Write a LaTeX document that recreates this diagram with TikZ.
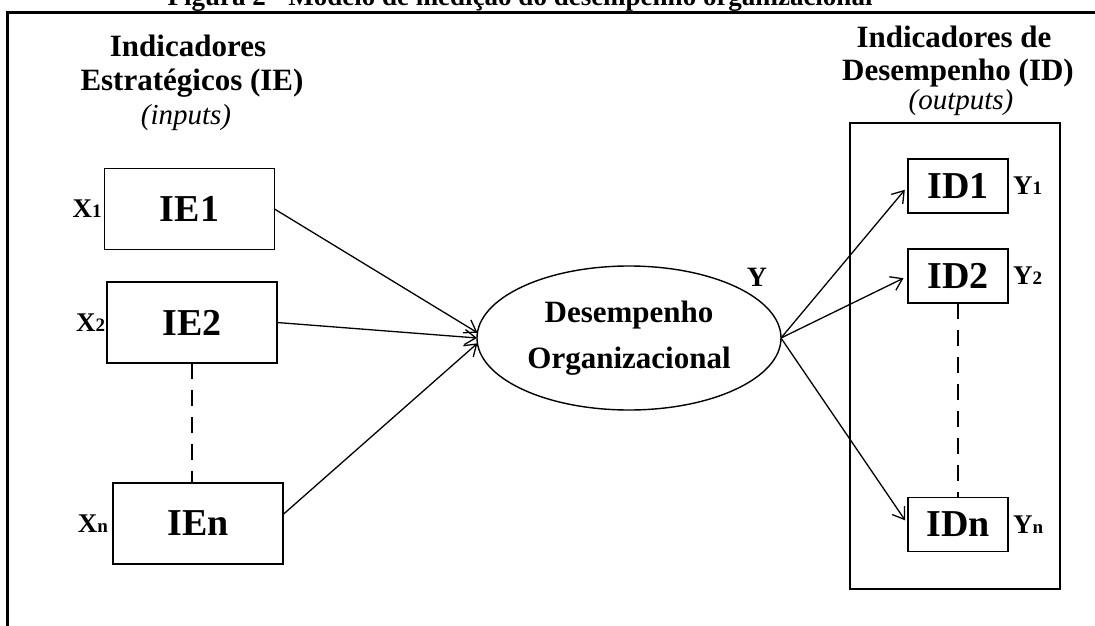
\documentclass[tikz,border=0pt]{standalone}
\usepackage{fontspec}
\setmainfont{Liberation Serif}
\usetikzlibrary{arrows.meta,shapes.geometric}

\begin{document}
\begin{tikzpicture}[x=1pt,y=-1pt,
  every node/.style={inner sep=0pt, outer sep=0pt},
  frameline/.style={line width=3pt},
  iebox/.style={draw, line width=1.4pt, minimum width=170pt, minimum height=81pt,
    font=\fontsize{38}{44}\selectfont\bfseries},
  idbox/.style={draw, line width=1.4pt, minimum width=100pt, minimum height=54pt,
    font=\fontsize{38}{44}\selectfont\bfseries},
  heading/.style={anchor=base, font=\fontsize{31}{36}\selectfont\bfseries},
  subhead/.style={anchor=base, font=\fontsize{29}{34}\selectfont\itshape},
  varlabel/.style={font=\fontsize{27}{30}\selectfont\bfseries},
  link/.style={line width=1.3pt, -{Straight Barb[length=11pt,width=15pt]}},
  dots/.style={line width=1.4pt, dash pattern=on 16pt off 11pt},
]
\useasboundingbox (0,0) rectangle (1095,626);
\clip (0,0) rectangle (1095,626);

% caption, cut by the top edge
\node[anchor=base, font=\fontsize{27}{32}\selectfont\bfseries] (title) at (520,6)
  {Figura 2 - Modelo de medição do desempenho organizacional};

% outer frame
\draw[frameline] (7,700) -- (7,13) -- (1200,13);

% headings
\node[heading] (hl1) at (188,57) {Indicadores};
\node[heading] (hl2) at (192,91) {Estratégicos (IE)};
\node[subhead] (hl3) at (186,124) {(inputs)};
\node[heading] (hr1) at (954,48) {Indicadores de};
\node[heading] (hr2) at (958,81) {Desempenho (ID)};
\node[subhead] (hr3) at (961,110) {(outputs)};

% strategic indicators (inputs)
\node[iebox] (IE1) at (189.5,209) {IE1};
\node[iebox] (IE2) at (192,322.5) {IE2};
\node[iebox] (IEn) at (198,523.5) {IEn};
\node[varlabel, anchor=east] (x1) at ([xshift=-3pt]IE1.west) {X\fontsize{19}{20}\selectfont 1};
\node[varlabel, anchor=east] (x2) at ([xshift=-2pt]IE2.west) {X\fontsize{19}{20}\selectfont 2};
\node[varlabel, anchor=east] (xn) at ([xshift=-5pt]IEn.west) {X\fontsize{19}{20}\selectfont n};
\draw[dots] (IE2.south) -- (IE2.south |- IEn.north);

% central construct
\node[draw, ellipse, line width=1.4pt, minimum width=304pt, minimum height=144pt,
  align=center, font=\fontsize{31}{46}\selectfont\bfseries] (DO) at (629,338)
  {Desempenho\\Organizacional};
\node[font=\fontsize{28}{30}\selectfont\bfseries] (yy) at (757,277) {Y};

% performance indicators (outputs)
\node[draw, line width=1.4pt, minimum width=210pt, minimum height=466pt] (outbox) at (955,356) {};
\node[idbox] (ID1) at (958,186) {ID1};
\node[idbox] (ID2) at (958,276) {ID2};
\node[idbox] (IDn) at (958,524.5) {IDn};
\node[varlabel, anchor=west] (y1) at ([xshift=5pt]ID1.east) {Y\fontsize{19}{20}\selectfont 1};
\node[varlabel, anchor=west] (y2) at ([xshift=5pt]ID2.east) {Y\fontsize{19}{20}\selectfont 2};
\node[varlabel, anchor=west] (yn) at ([xshift=5pt]IDn.east) {Y\fontsize{19}{20}\selectfont n};
\draw[dots] (ID2.south) -- (IDn.north);

% connectors
\draw[link] (IE1.east) -- (DO.178);
\draw[link] (IE2.east) -- (DO.180);
\draw[link] (IEn.6) -- (DO.182);
\draw[link, shorten >=5pt] (DO.east) -- (ID1.west);
\draw[link, shorten >=5pt] (DO.east) -- (ID2.west);
\draw[link, shorten >=5pt] (DO.east) -- (IDn.west);
\end{tikzpicture}
\end{document}
